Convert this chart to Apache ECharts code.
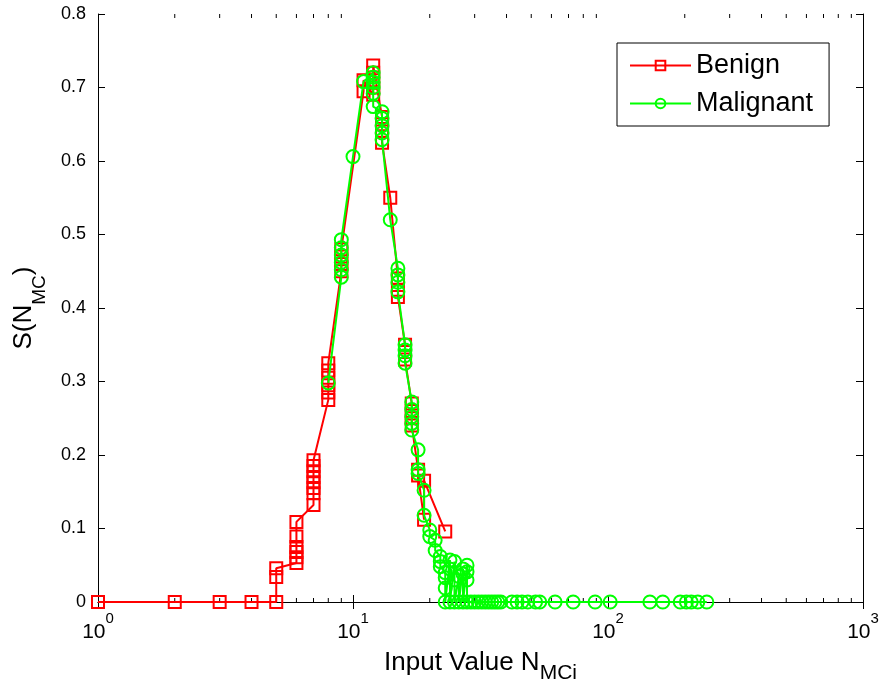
<!DOCTYPE html>
<html>
<head>
<meta charset="utf-8">
<script src="https://cdn.jsdelivr.net/npm/echarts@6/dist/echarts.min.js"></script>
<style>
  html, body { margin: 0; padding: 0; background: #fff; }
  #chart { width: 881px; height: 684px; }
</style>
</head>
<body>
<div id="chart"></div>
<script>
  // values (x: input value N_MCi, y: S(N_MC))
  var benignX = [1, 2, 3, 4, 5, 5, 5,
    6, 6, 6, 6, 6, 6,
    7, 7, 7, 7, 7, 7, 7, 7,
    8, 8, 8, 8, 8, 8,
    9, 9, 9, 9,
    11, 11,
    12, 12, 12, 12, 12,
    13, 13, 13, 13,
    14,
    15, 15, 15,
    16, 16, 16,
    17, 17, 17, 17,
    18, 18, 19, 19, 23]
  var benignY = [0, 0, 0, 0, 0, 0.034, 0.046,
    0.053, 0.061, 0.068, 0.075, 0.089, 0.109,
    0.132, 0.148, 0.155, 0.163, 0.17, 0.178, 0.185, 0.193,
    0.275, 0.285, 0.295, 0.305, 0.315, 0.325,
    0.45, 0.46, 0.47, 0.48,
    0.695, 0.71,
    0.69, 0.70, 0.71, 0.72, 0.73,
    0.66, 0.65, 0.64, 0.625,
    0.55,
    0.44, 0.425, 0.415,
    0.35, 0.34, 0.33,
    0.27, 0.26, 0.25, 0.24,
    0.18, 0.172, 0.112, 0.165, 0.096]

  var malignantX = [8,
    9, 9, 9, 9, 9, 9,
    10, 11,
    12, 12, 12, 12, 12, 12,
    13, 13, 13, 13, 13,
    14,
    15, 15, 15, 15,
    16, 16, 16, 16,
    17, 17, 17, 17, 17,
    18, 18, 18,
    19, 19, 20, 20, 21, 21,
    22, 22, 22,
    23, 23, 23, 23,
    24, 24, 24,
    25, 25, 25,
    26, 26,
    27, 27, 27,
    28, 28, 28, 28,
    29, 30, 31, 32, 33, 34, 35, 36, 37, 38,
    42, 44, 46, 48.5, 52, 54, 62, 73, 89, 102,
    146, 164, 192, 203, 212, 225, 244]
  var malignantY = [0.298,
    0.442, 0.452, 0.462, 0.472, 0.482, 0.493,
    0.606, 0.708,
    0.72, 0.714, 0.707, 0.7, 0.692, 0.674,
    0.667, 0.658, 0.648, 0.638, 0.629,
    0.52,
    0.454, 0.445, 0.435, 0.422,
    0.35, 0.343, 0.335, 0.325,
    0.272, 0.262, 0.252, 0.243, 0.234,
    0.207, 0.18, 0.175,
    0.152, 0.118, 0.098, 0.089, 0.084, 0.07,
    0.062, 0.055, 0.048,
    0.04, 0.033, 0.019, 0,
    0.057, 0.045, 0,
    0.055, 0.03, 0,
    0.035, 0,
    0.045, 0.038, 0,
    0.05, 0.041, 0.03, 0,
    0, 0, 0, 0, 0, 0, 0, 0, 0, 0,
    0, 0, 0, 0, 0, 0, 0, 0, 0, 0,
    0, 0, 0, 0, 0, 0, 0]

  var yTicks = [0, 0.1, 0.2, 0.3, 0.4, 0.5, 0.6, 0.7, 0.8]

  var font = 'Liberation Sans, Arial, Helvetica, sans-serif'

  var pairs = function (xs, ys) {
    var out = []
    for (var i = 0; i < xs.length; i++) {
      out.push([xs[i], ys[i]])
    }
    return out
  }

  // minor log ticks 2..9 in every decade
  var minorTicks = []
  for (var d = 1; d < 1000; d *= 10) {
    for (var k = 2; k <= 9; k++) {
      minorTicks.push([k * d, 0])
    }
  }

  var chart = echarts.init(document.getElementById('chart'))

  chart.setOption({
    animation: false,
    backgroundColor: '#fff',
    grid: {
      left: 98,
      right: 18,
      top: 14,
      bottom: 82,
      containLabel: false,
      outerBoundsMode: 'none',
    },
    legend: {
      orient: 'vertical',
      left: 617,
      top: 43,
      padding: [9, 16, 9, 12],
      itemGap: 11,
      itemWidth: 61,
      itemHeight: 12,
      borderColor: '#000',
      borderWidth: 1,
      borderRadius: 0,
      backgroundColor: '#fff',
      textStyle: {
        fontFamily: font,
        fontSize: 27,
        color: '#000',
      },
      data: ['Benign', 'Malignant'],
    },
    xAxis: [
      {
        type: 'log',
        logBase: 10,
        min: 1,
        max: 1000,
        position: 'bottom',
        name: '{a|Input Value N}{s|MCi}',
        nameLocation: 'middle',
        nameGap: 48,
        nameTextStyle: {
          rich: {
            a: { fontFamily: font, fontSize: 26, color: '#000', lineHeight: 34, verticalAlign: 'top' },
            s: { fontFamily: font, fontSize: 21, color: '#000', lineHeight: 34, verticalAlign: 'bottom' },
          },
        },
        axisLine: { lineStyle: { color: '#000', width: 1 } },
        axisTick: { inside: true, length: 7, lineStyle: { color: '#000' } },
        splitLine: { show: false },
        axisLabel: {
          margin: 3,
          formatter: function (v) {
            return '{b|10}{s|' + Math.round(Math.log10(v)) + '}'
          },
          rich: {
            b: { fontFamily: font, fontSize: 21, color: '#000', lineHeight: 38, verticalAlign: 'bottom' },
            s: { fontFamily: font, fontSize: 15, color: '#000', lineHeight: 18, verticalAlign: 'top', padding: [6, 0, 0, 0] },
          },
        },
      },
      {
        type: 'log',
        logBase: 10,
        min: 1,
        max: 1000,
        position: 'top',
        axisLine: { lineStyle: { color: '#000', width: 1 } },
        axisTick: { inside: true, length: 7, lineStyle: { color: '#000' } },
        axisLabel: { show: false },
        splitLine: { show: false },
      },
    ],
    yAxis: [
      {
        type: 'value',
        min: yTicks[0],
        max: yTicks[yTicks.length - 1],
        interval: 0.1,
        name: '{a|S(N}{s|MC}{a|)}',
        nameLocation: 'middle',
        nameGap: 49,
        nameTextStyle: {
          rich: {
            a: { fontFamily: font, fontSize: 26, color: '#000', lineHeight: 38, verticalAlign: 'top' },
            s: { fontFamily: font, fontSize: 19, color: '#000', lineHeight: 38, verticalAlign: 'bottom' },
          },
        },
        axisLine: { show: true, lineStyle: { color: '#000', width: 1 } },
        axisTick: { show: true, inside: true, length: 7, lineStyle: { color: '#000' } },
        splitLine: { show: false },
        axisLabel: {
          margin: 12,
          fontFamily: font,
          fontSize: 18,
          color: '#000',
          formatter: function (v) {
            return yTicks.indexOf(Math.round(v * 10) / 10) >= 0 ? String(Math.round(v * 10) / 10) : ''
          },
        },
      },
      {
        type: 'value',
        min: yTicks[0],
        max: yTicks[yTicks.length - 1],
        interval: 0.1,
        position: 'right',
        axisLine: { show: true, lineStyle: { color: '#000', width: 1 } },
        axisTick: { show: true, inside: true, length: 7, lineStyle: { color: '#000' } },
        axisLabel: { show: false },
        splitLine: { show: false },
      },
    ],
    series: [
      {
        type: 'custom',
        silent: true,
        data: minorTicks,
        encode: { x: 0, y: 1 },
        renderItem: function (params, api) {
          var v = api.value(0)
          var b = api.coord([v, 0])
          var t = api.coord([v, 0.8])
          return {
            type: 'group',
            children: [
              { type: 'line', shape: { x1: b[0], y1: b[1], x2: b[0], y2: b[1] - 4 }, style: { stroke: '#000', lineWidth: 1 } },
              { type: 'line', shape: { x1: t[0], y1: t[1], x2: t[0], y2: t[1] + 4 }, style: { stroke: '#000', lineWidth: 1 } },
            ],
          }
        },
      },
      {
        name: 'Benign',
        type: 'line',
        data: pairs(benignX, benignY),
        showAllSymbol: true,
        symbol: 'rect',
        symbolSize: 12,
        z: 3,
        lineStyle: { color: '#ff0000', width: 2 },
        itemStyle: { color: 'rgba(0,0,0,0)', borderColor: '#ff0000', borderWidth: 2 },
        emphasis: { disabled: true },
      },
      {
        name: 'Malignant',
        type: 'line',
        data: pairs(malignantX, malignantY),
        showAllSymbol: true,
        symbol: 'circle',
        symbolSize: 13,
        z: 4,
        lineStyle: { color: '#00ff00', width: 2 },
        itemStyle: { color: 'rgba(0,0,0,0)', borderColor: '#00ff00', borderWidth: 2 },
        emphasis: { disabled: true },
      },
    ],
  })
</script>
</body>
</html>
